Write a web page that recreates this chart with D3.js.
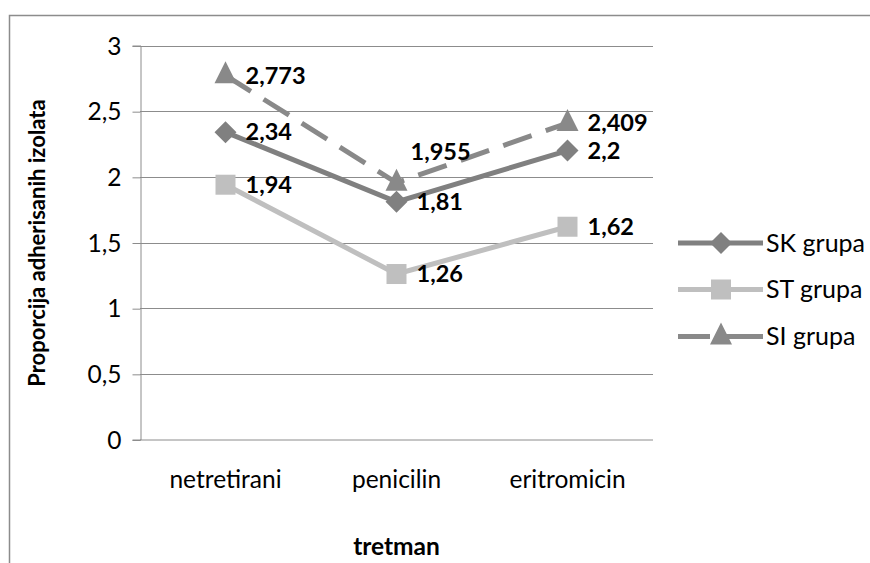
<!DOCTYPE html>
<html>
<head>
<meta charset="utf-8">
<script src="https://cdn.jsdelivr.net/npm/d3@7"></script>
<style>
  html, body { margin: 0; padding: 0; background: #fff; }
  svg { display: block; font-family: Lato, "Open Sans", sans-serif; }
</style>
</head>
<body>
<svg id="chart" width="870" height="563"></svg>
<script>
// Treatments on the x axis
const categories = ["netretirani", "penicilin", "eritromicin"];
// Group names and their values per treatment
const seriesNames = ["SK grupa", "ST grupa", "SI grupa"];
const skValues = [2.34, 1.81, 2.2];
const stValues = [1.94, 1.26, 1.62];
const siValues = [2.773, 1.955, 2.409];
// Y axis ticks
const yTicks = [0, 0.5, 1, 1.5, 2, 2.5, 3];

const xTitle = "tretman";
const yTitle = "Proporcija adherisanih izolata";

const series = [
  { name: seriesNames[0], values: skValues, color: "#808080", dash: null, marker: "diamond" },
  { name: seriesNames[1], values: stValues, color: "#bfbfbf", dash: null, marker: "square" },
  { name: seriesNames[2], values: siValues, color: "#898989", dash: "30,15", marker: "triangle" }
];

const svg = d3.select("#chart");
const fmt = v => String(v).replace(".", ",");

// Outer chart frame
svg.append("path")
  .attr("d", "M9.5,563 V15.5 H870")
  .attr("fill", "none").attr("stroke", "#8c8c8c").attr("stroke-width", 1.5);

const plot = { left: 140, right: 653, top: 45.5, bottom: 439.5 };

const x = d3.scaleBand().domain(categories).range([plot.left, plot.right]);
const y = d3.scaleLinear().domain([0, 3]).range([plot.bottom, plot.top]);

// Horizontal gridlines
svg.append("g")
  .selectAll("line").data(yTicks.filter(t => t > 0)).join("line")
  .attr("x1", plot.left).attr("x2", plot.right)
  .attr("y1", d => Math.round(y(d)) + 0.5).attr("y2", d => Math.round(y(d)) + 0.5)
  .attr("stroke", "#8c8c8c").attr("stroke-width", 1);

// Y axis with outward ticks
const yAxis = svg.append("g")
  .attr("transform", `translate(${plot.left + 0.5},0)`)
  .call(d3.axisLeft(y).tickValues(yTicks).tickSize(8).tickPadding(11).tickFormat(fmt));
yAxis.select(".domain").attr("stroke", "#8c8c8c");
yAxis.selectAll(".tick line").attr("stroke", "#8c8c8c")
  .attr("transform", "translate(0,0.5)");
yAxis.selectAll(".tick text")
  .attr("font-family", "Lato, sans-serif").attr("font-size", 24.5).attr("fill", "#000")
  .attr("dy", "0.35em");

// X axis line and category labels
const xAxis = svg.append("g")
  .attr("transform", `translate(0,${plot.bottom + 0.5})`)
  .call(d3.axisBottom(x).tickSize(0).tickPadding(31));
xAxis.select(".domain").attr("stroke", "#8c8c8c").attr("d", `M${plot.left},0H${plot.right}`);
xAxis.selectAll(".tick text")
  .attr("font-family", "Lato, sans-serif").attr("font-size", 24.5).attr("fill", "#000");

// Axis titles
svg.append("text")
  .attr("x", x(categories[1]) + x.bandwidth() / 2).attr("y", 555)
  .attr("text-anchor", "middle").attr("font-weight", "bold").attr("font-size", 24.5)
  .text(xTitle);
svg.append("text")
  .attr("transform", "translate(45,243) rotate(-90)")
  .attr("text-anchor", "middle").attr("font-weight", "bold").attr("font-size", 22)
  .text(yTitle);

const cx = c => x(c) + x.bandwidth() / 2;

function drawMarker(g, type, color) {
  if (type === "diamond") {
    g.append("path").attr("d", "M0,-11 L11,0 L0,11 L-11,0 Z").attr("fill", color);
  } else if (type === "square") {
    g.append("rect").attr("x", -10).attr("y", -10).attr("width", 20).attr("height", 20).attr("fill", color);
  } else {
    g.append("path").attr("d", "M0,-14 L11,8 L-11,8 Z").attr("fill", color);
  }
}

const line = d3.line().x((d, i) => cx(categories[i])).y(d => y(d));

series.forEach(s => {
  svg.append("path")
    .datum(s.values)
    .attr("d", line)
    .attr("fill", "none").attr("stroke", s.color).attr("stroke-width", 5)
    .attr("stroke-dasharray", s.dash);
  s.values.forEach((v, i) => {
    const g = svg.append("g").attr("transform", `translate(${cx(categories[i])},${y(v)})`);
    drawMarker(g, s.marker, s.color);
  });
});

// Data labels to the right of each point; the SI penicilin label sits above its point
series.forEach((s, si) => {
  s.values.forEach((v, i) => {
    let dx = 20, dy = 0;
    if (si === 2 && i === 1) { dx = 14; dy = -31; }
    svg.append("text")
      .attr("x", cx(categories[i]) + dx).attr("y", y(v) + dy)
      .attr("dy", "0.35em")
      .attr("font-weight", "bold").attr("font-size", 23.5).attr("fill", "#000")
      .text(fmt(v));
  });
});

// Legend
const legendY = [243, 289.5, 336.5];
series.forEach((s, i) => {
  const g = svg.append("g").attr("transform", `translate(0,${legendY[i]})`);
  g.append("line").attr("x1", 678).attr("x2", 763).attr("y1", 0).attr("y2", 0)
    .attr("stroke", s.color).attr("stroke-width", 5)
    .attr("stroke-dasharray", s.dash ? "32,14,39" : null);
  const m = g.append("g").attr("transform", "translate(721,0)");
  drawMarker(m, s.marker, s.color);
  g.append("text").attr("x", 766).attr("y", 0).attr("dy", "0.35em")
    .attr("font-size", 25).attr("fill", "#000").text(s.name);
});
</script>
</body>
</html>
